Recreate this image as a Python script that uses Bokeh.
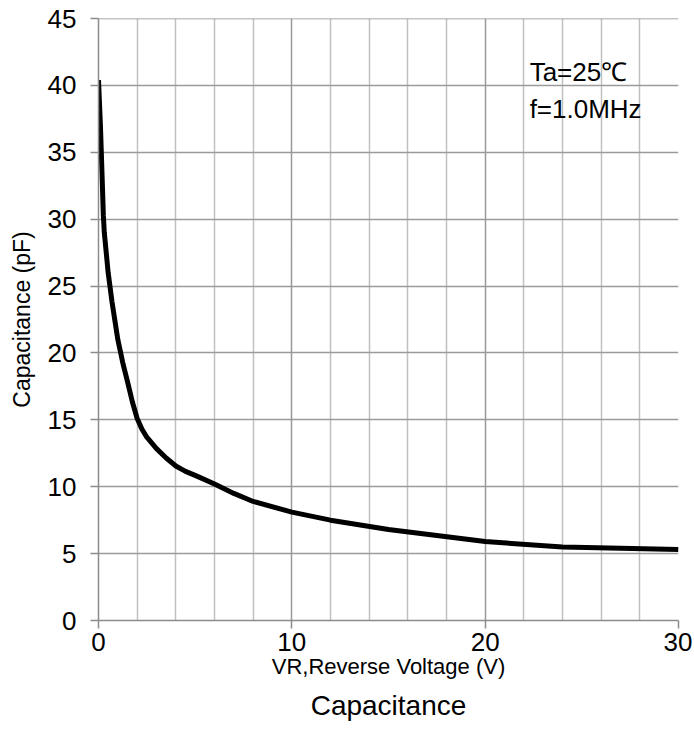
from bokeh.plotting import figure
from bokeh.models import FixedTicker, Range1d, Label, Title
from bokeh.embed import file_html
from bokeh.resources import INLINE

voltage = [0, 0.1, 0.2, 0.25, 0.3, 0.5, 0.7, 1.0, 1.25, 1.5, 1.75, 2.0, 2.25, 2.5, 3.0, 3.5, 4.0, 4.5, 5.0, 6.0, 7.0, 8.0, 10, 12, 15, 20, 24, 30]
capacitance = [40.4, 37.0, 32.6, 30.3, 29.0, 26.0, 23.8, 21.0, 19.3, 17.85, 16.35, 15.1, 14.3, 13.7, 12.85, 12.15, 11.55, 11.15, 10.85, 10.2, 9.5, 8.9, 8.1, 7.5, 6.8, 5.9, 5.5, 5.3]
x_major = [0, 10, 20, 30]
x_minor = [2, 4, 6, 8, 12, 14, 16, 18, 22, 24, 26, 28]
y_ticks = [0, 5, 10, 15, 20, 25, 30, 35, 40, 45]

FONT = "Liberation Sans"

p = figure(width=692, height=735, output_backend="svg", toolbar_location=None,
           x_range=Range1d(0, 30), y_range=Range1d(0, 45),
           min_border_left=98, min_border_right=14, min_border_top=18, min_border_bottom=115)
p.outline_line_color = None
p.background_fill_color = "white"

p.xaxis.ticker = FixedTicker(ticks=x_major, minor_ticks=x_minor)
p.yaxis.ticker = FixedTicker(ticks=y_ticks)
p.xgrid.ticker = FixedTicker(ticks=x_major, minor_ticks=x_minor)
p.ygrid.ticker = FixedTicker(ticks=y_ticks)

p.xgrid.grid_line_color = "#999999"
p.xgrid.grid_line_width = 1.5
p.xgrid.minor_grid_line_color = "#c0c0c0"
p.xgrid.minor_grid_line_width = 1.5
p.ygrid.grid_line_color = "#9a9a9a"
p.ygrid.grid_line_width = 1.5

for ax in (p.xaxis, p.yaxis):
    ax.axis_line_color = "#8c8c8c"
    ax.axis_line_width = 1.5
    ax.major_tick_line_color = "#8c8c8c"
    ax.major_tick_line_width = 1.5
    ax.major_tick_out = 8
    ax.major_tick_in = 0
    ax.minor_tick_out = 0
    ax.minor_tick_in = 0
    ax.major_label_text_font = FONT
    ax.major_label_text_font_size = "26px"
    ax.major_label_text_color = "black"
    ax.axis_label_text_font = FONT
    ax.axis_label_text_font_style = "normal"
    ax.axis_label_text_color = "black"

p.xaxis.axis_label_text_font_size = "22px"
p.yaxis.axis_label_text_font_size = "23px"
p.xaxis.major_label_standoff = 4
p.yaxis.major_label_standoff = 14
p.xaxis.axis_label = "VR,Reverse Voltage (V)"
p.xaxis.axis_label_standoff = 0
p.yaxis.axis_label = "Capacitance (pF)"
p.yaxis.axis_label_standoff = 10

p.line([0, 30], [45, 45], line_color="#8c8c8c", line_width=1.5)

p.line(voltage, capacitance, line_color="black", line_width=5, line_join="round")

p.add_layout(Label(x=22.3, y=41.0, text="Ta=25℃", text_font=FONT, text_font_size="26px",
                   text_baseline="middle", text_color="black"))
p.add_layout(Label(x=22.3, y=38.2, text="f=1.0MHz", text_font=FONT, text_font_size="26px",
                   text_baseline="middle", text_color="black"))

t = Title(text="Capacitance", align="center", text_font=FONT, text_font_size="28px",
          text_font_style="normal", text_color="black", standoff=12)
p.add_layout(t, "below")

open("out.html", "w").write(file_html(p, INLINE))
